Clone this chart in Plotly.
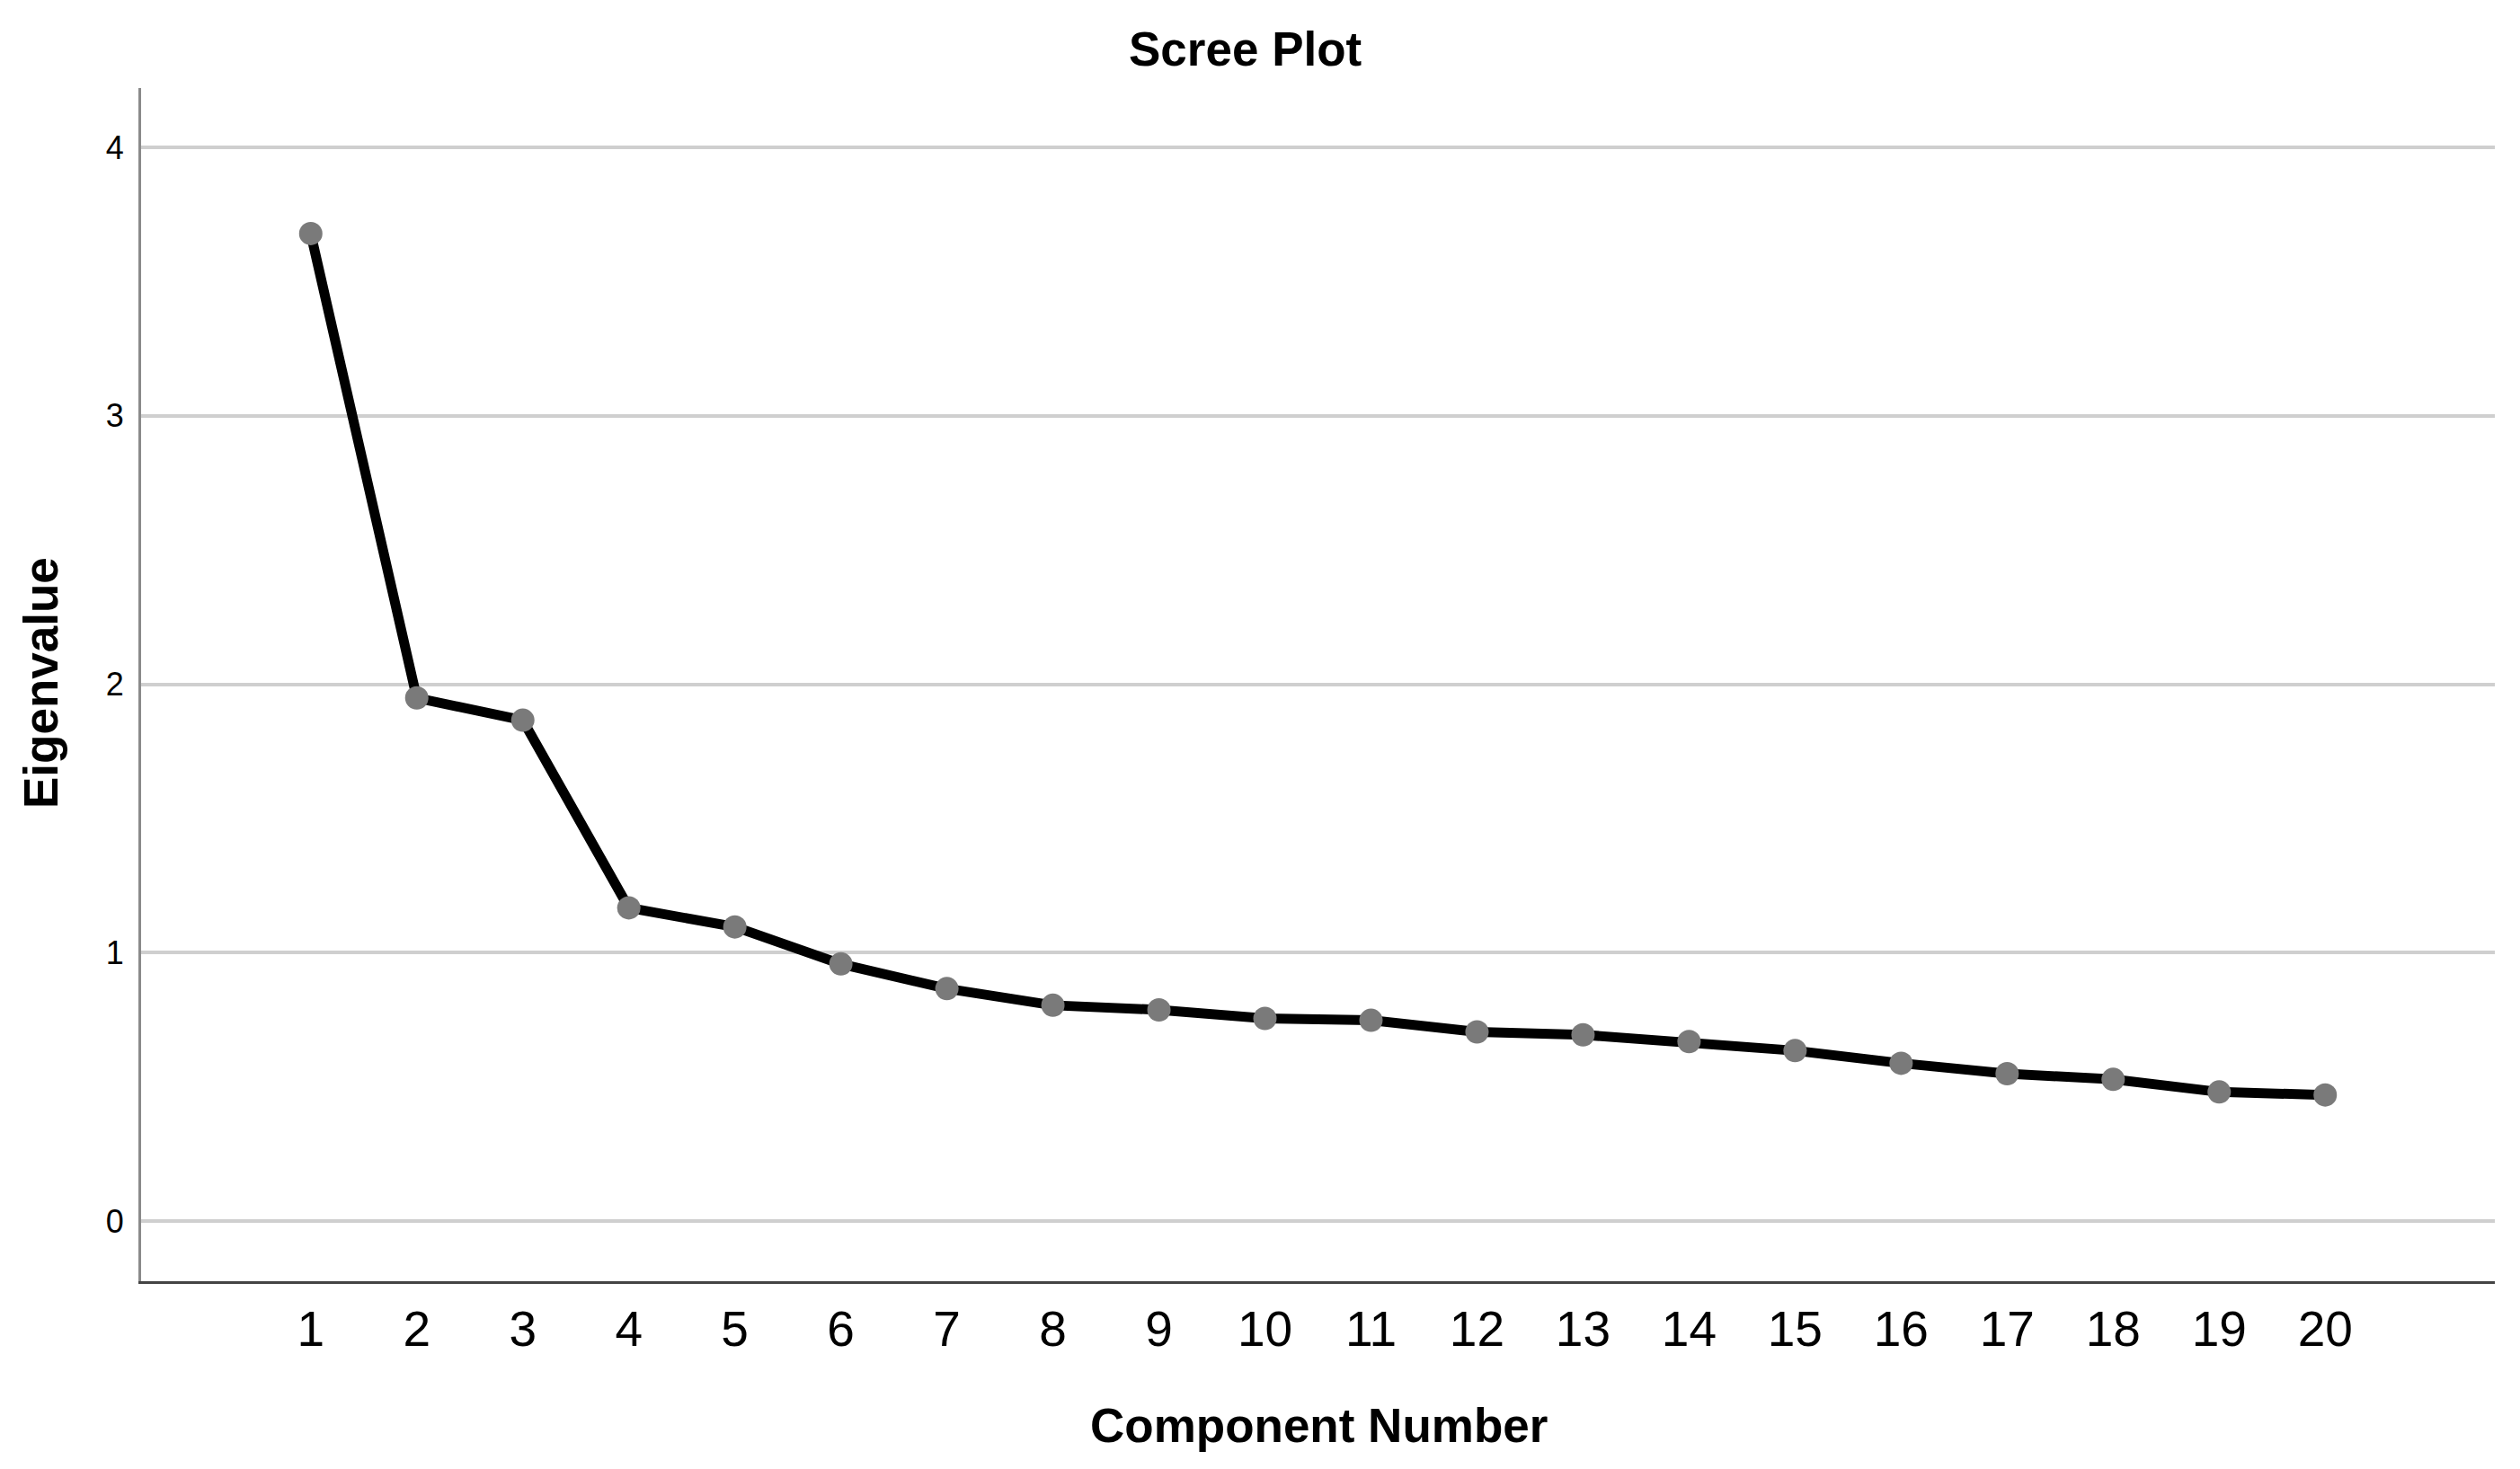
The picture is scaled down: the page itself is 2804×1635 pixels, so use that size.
import plotly.graph_objects as go

# Data
components = list(range(1, 21))
eigenvalues = [3.679, 1.949, 1.866, 1.167, 1.096, 0.958, 0.866, 0.804, 0.787, 0.755,
               0.748, 0.705, 0.694, 0.669, 0.635, 0.588, 0.549, 0.528, 0.481, 0.470]
x_tick_vals = components
y_tick_vals = [0, 1, 2, 3, 4]

chart_title = "Scree Plot"
x_title = "Component Number"
y_title = "Eigenvalue"

W, H = 2804, 1635          # window size
BODY = 8                   # default body margin of the page
L, R, T, B = 157, 28, 98, 209   # desired plot-area edges in window pixels
pw, ph = W - L - R, H - T - B

FONT = "Arial, 'Liberation Sans', sans-serif"

fig = go.Figure()
fig.add_trace(go.Scatter(
    x=components, y=eigenvalues, mode="lines+markers",
    line=dict(color="#000000", width=11),
    marker=dict(color="#7a7a7a", size=26, line=dict(width=0)),
    showlegend=False, hoverinfo="x+y",
))

def px_to_paper_x(px):
    return (px - L) / pw

def px_to_paper_y(py):
    return (H - B - py) / ph

fig.update_layout(
    width=W - 2 * BODY, height=H - 2 * BODY,
    margin=dict(l=L - BODY, r=R - BODY, t=T - BODY, b=B - BODY, pad=0),
    paper_bgcolor="white", plot_bgcolor="white",
    font=dict(family=FONT, color="#000000"),
    xaxis=dict(
        range=[-0.6, 21.6], tickmode="array", tickvals=x_tick_vals,
        ticktext=[str(v) for v in x_tick_vals],
        showgrid=False, zeroline=False, showline=True, linecolor="#444444", linewidth=3,
        ticks="", tickfont=dict(family=FONT, size=55, color="#000000"),
        ticklabelstandoff=3,
    ),
    yaxis=dict(
        range=[-0.224, 4.221], tickmode="array", tickvals=y_tick_vals,
        ticktext=[str(v) for v in y_tick_vals],
        showgrid=True, gridcolor="#cfcfcf", gridwidth=4, zeroline=False,
        showline=True, linecolor="#8a8a8a", linewidth=3,
        ticks="", tickfont=dict(family=FONT, size=36, color="#000000"),
        ticklabelstandoff=9,
    ),
    annotations=[
        dict(text="<b>" + chart_title + "</b>", xref="paper", yref="paper",
             x=px_to_paper_x(1385), y=px_to_paper_y(54), xanchor="center", yanchor="middle",
             showarrow=False, font=dict(family=FONT, size=53, color="#000000")),
        dict(text="<b>" + x_title + "</b>", xref="paper", yref="paper",
             x=px_to_paper_x(1467), y=px_to_paper_y(1586), xanchor="center", yanchor="middle",
             showarrow=False, font=dict(family=FONT, size=53, color="#000000")),
        dict(text="<b>" + y_title + "</b>", xref="paper", yref="paper",
             x=px_to_paper_x(45), y=px_to_paper_y(760), xanchor="center", yanchor="middle",
             textangle=-90, showarrow=False, font=dict(family=FONT, size=53, color="#000000")),
    ],
)

fig.write_html("out.html")
